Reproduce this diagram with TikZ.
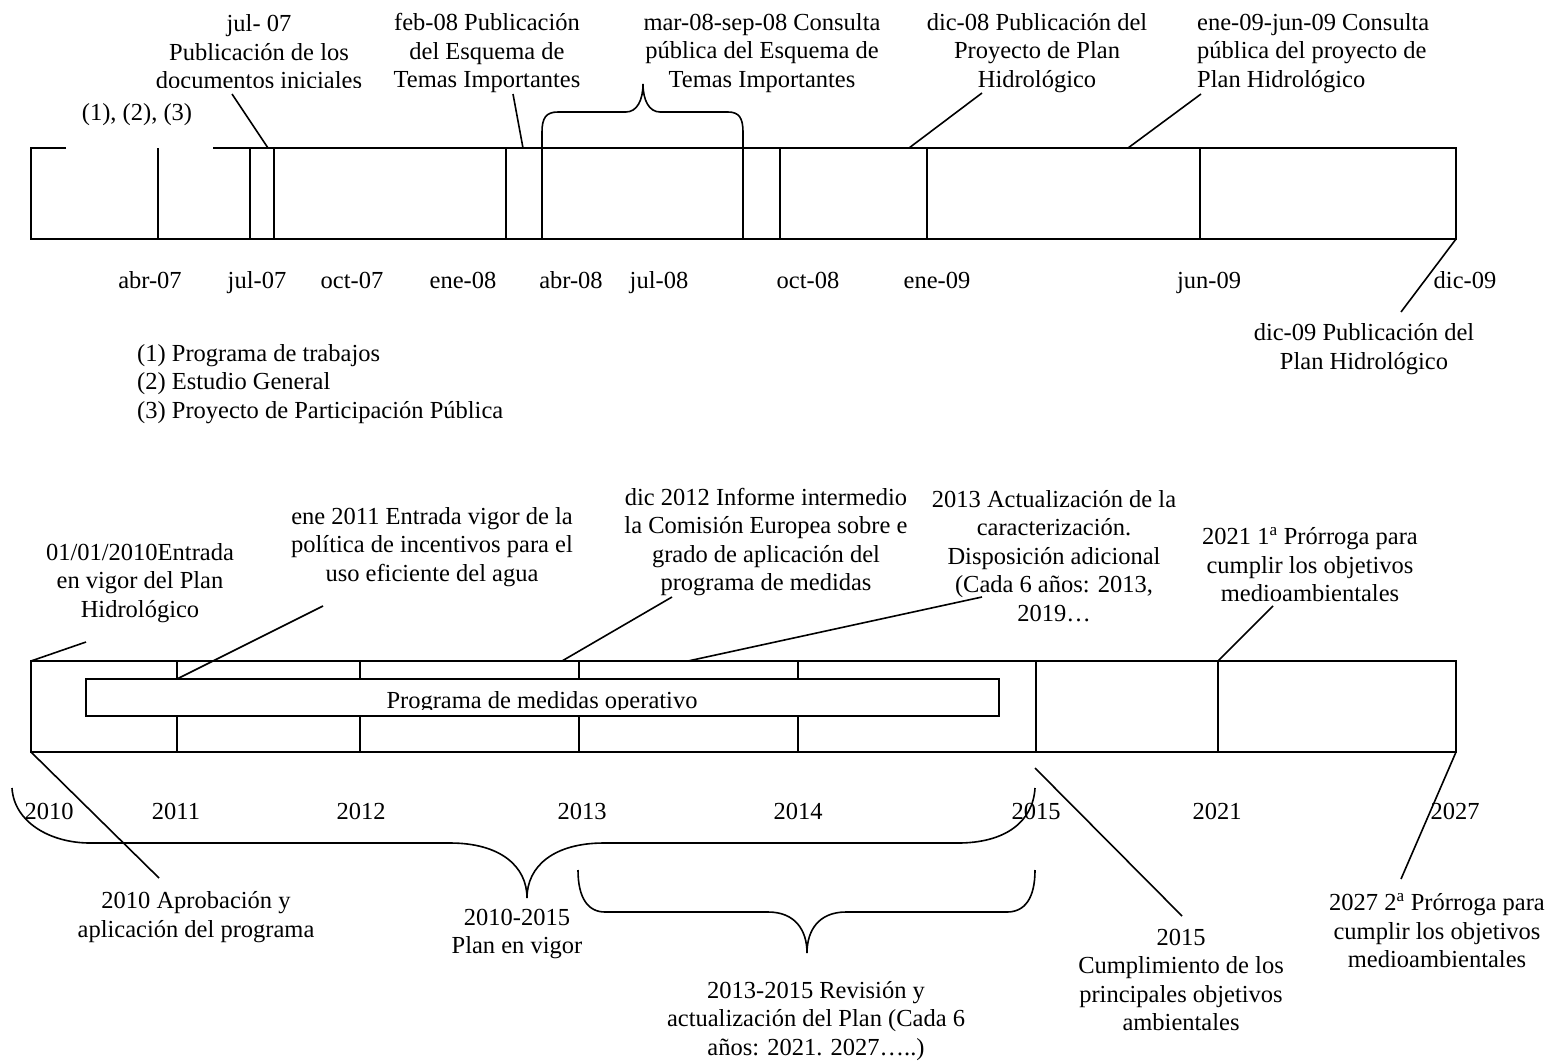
\documentclass[tikz,border=0pt]{standalone}
\usepackage{fontspec}
\setmainfont{Liberation Serif}
\begin{document}
\begin{tikzpicture}[x=1pt,y=-1pt]
        \tikzset{line/.style={line width=1.6pt}}
        \tikzset{every node/.style={font=\fontsize{24.5}{28.5}\selectfont, inner sep=0pt, align=center}}
        \useasboundingbox (0,0) rectangle (1549,1062);

        % 2007-2009
        \draw[line] (66,148) -- (31,148) -- (31,239) -- (1456,239) -- (1456,148) -- (213,148);
        \foreach \x in {158,250,274,506,542,743,780,927,1200}
            \draw[line] (\x,148) -- (\x,239);
        \draw[line] (542,148) -- (542,132) .. controls (542,118) and (546,112) .. (558,112) -- (626,112)
            .. controls (637,112) and (643,100) .. (643,84) .. controls (643,100) and (649,112) .. (660,112)
            -- (728,112) .. controls (739,112) and (743,118) .. (743,132) -- (743,148);

        \begin{scope}
            \clip (100,0) rectangle (420,87.5);
            \node (jul07) at (259,52) {jul- 07\\Publicación de los\\documentos iniciales};
        \end{scope}
        \node (docs) at (137,115) {(1), (2), (3)};
        \node (feb08) at (487,53) {feb-08 Publicación\\del Esquema de\\Temas Importantes};
        \node (mar08) at (762,53) {mar-08-sep-08 Consulta\\pública del Esquema de\\Temas Importantes};
        \node (dic08) at (1037,53) {dic-08 Publicación del\\Proyecto de Plan\\Hidrológico};
        \node[anchor=west, align=left] (ene09) at (1197,53) {ene-09-jun-09 Consulta\\pública del proyecto de\\Plan Hidrológico};
        \node (dic09) at (1364,349) {dic-09 Publicación del\\Plan Hidrológico};
        \node[anchor=west, align=left] (notas) at (137,384) {(1) Programa de trabajos\\(2) Estudio General\\(3) Proyecto de Participación Pública};

        \foreach \x/\m [count=\i] in {150/abr-07,257/jul-07,352/oct-07,463/ene-08,571/abr-08,659/jul-08,808/oct-08,937/ene-09,1209/jun-09,1465/dic-09}
            \node[anchor=base] (mes\i) at (\x,288) {\m};

        \coordinate (jul07a) at (268,148);
        \coordinate (jul07b) at (232,94);
        \coordinate (feb08a) at (523,148);
        \coordinate (feb08b) at (513,94);
        \coordinate (dic08a) at (909,148);
        \coordinate (dic08b) at (982,93);
        \coordinate (ene09a) at (1128,148);
        \coordinate (ene09b) at (1201,94);
        \coordinate (dic09a) at (1456,239);
        \coordinate (dic09b) at (1401,312);
        \draw[line] (jul07a) -- (jul07b);
        \draw[line] (feb08a) -- (feb08b);
        \draw[line] (dic08a) -- (dic08b);
        \draw[line] (ene09a) -- (ene09b);
        \draw[line] (dic09a) -- (dic09b);

        % 2010-2027
        \draw[line] (31,661) rectangle (1456,752);
        \foreach \x in {177,360,579,798} {
            \draw[line] (\x,661) -- (\x,679);
            \draw[line] (\x,716) -- (\x,752);
        }
        \foreach \x in {1036,1218}
            \draw[line] (\x,661) -- (\x,752);
        \begin{scope}
            \clip (86,679) rectangle (999,709);
            \node[anchor=base] (prog) at (542,708) {Programa de medidas operativo};
        \end{scope}
        \draw[line] (86,679) rectangle (999,716);

        \foreach \x/\a in {49/2010,176/2011,361/2012,582/2013,798/2014,1036/2015,1217/2021,1455/2027}
            \node[anchor=base] (a\a) at (\x,819) {\a};

        \node (ent10) at (140,583) {01/01/2010Entrada\\en vigor del Plan\\Hidrológico};
        \node (ene11) at (432,547) {ene 2011 Entrada vigor de la\\política de incentivos para el\\uso eficiente del agua};
        \node (dic12) at (766,542) {dic 2012 Informe intermedio\\la Comisión Europea sobre e\\grado de aplicación del\\programa de medidas};
        \node (act13) at (1054,556) {2013 Actualización de la\\caracterización.\\Disposición adicional\\(Cada 6 años: 2013,\\2019…};
        \node (pr21) at (1310,565) {2021 1\textsuperscript{a} Prórroga para\\cumplir los objetivos\\medioambientales};
        \node (apr10) at (196,917) {2010 Aprobación y\\aplicación del programa};
        \node (vigor) at (517,934) {2010-2015\\Plan en vigor};
        \node (rev) at (816,1021) {2013-2015 Revisión y\\actualización del Plan (Cada 6\\años: 2021. 2027…..)};
        \node (cump) at (1181,980) {2015\\Cumplimiento de los\\principales objetivos\\ambientales};
        \node (pr27) at (1437,931) {2027 2\textsuperscript{a} Prórroga para\\cumplir los objetivos\\medioambientales};

        \draw[line] (12,788) .. controls (14,822) and (50,843) .. (90,843) -- (450,843)
            .. controls (500,843) and (527,866) .. (527,898) .. controls (527,866) and (554,843) .. (604,843)
            -- (958,843) .. controls (1005,843) and (1033,822) .. (1035,788);
        \draw[line] (578,870) .. controls (578,898) and (588,912) .. (605,912) -- (768,912)
            .. controls (795,912) and (807,930) .. (807,953) .. controls (807,930) and (819,912) .. (846,912)
            -- (1007,912) .. controls (1025,912) and (1035,898) .. (1035,870);

        \coordinate (ent10a) at (31,661);
        \coordinate (ent10b) at (86,642);
        \coordinate (ene11a) at (177,679);
        \coordinate (ene11b) at (323,606);
        \coordinate (dic12a) at (562,661);
        \coordinate (dic12b) at (672,597);
        \coordinate (act13a) at (688,661);
        \coordinate (act13b) at (982,597);
        \coordinate (pr21a) at (1218,661);
        \coordinate (pr21b) at (1273,606);
        \coordinate (apr10a) at (31,752);
        \coordinate (apr10b) at (159,878);
        \coordinate (cumpa) at (1035,768);
        \coordinate (cumpb) at (1182,916);
        \coordinate (pr27a) at (1456,752);
        \coordinate (pr27b) at (1401,879);
        \draw[line] (ent10a) -- (ent10b);
        \draw[line] (ene11a) -- (ene11b);
        \draw[line] (dic12a) -- (dic12b);
        \draw[line] (act13a) -- (act13b);
        \draw[line] (pr21a) -- (pr21b);
        \draw[line] (apr10a) -- (apr10b);
        \draw[line] (cumpa) -- (cumpb);
        \draw[line] (pr27a) -- (pr27b);
\end{tikzpicture}
\end{document}
